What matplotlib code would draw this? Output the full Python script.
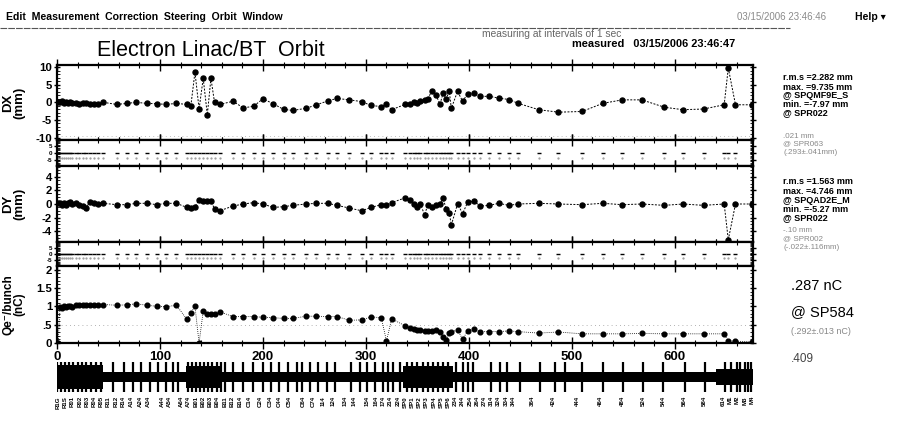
import matplotlib
matplotlib.use("Agg")
import matplotlib.pyplot as plt
from matplotlib.ticker import MultipleLocator

plt.rcParams["font.family"] = ["Liberation Sans", "DejaVu Sans"]

# BPM positions along the line (m) and the measured readings
s_bpm = [1, 3, 5, 7, 9, 11, 13, 15, 18, 21, 25, 28, 32, 36, 40, 45,
         58, 68, 77, 87, 97, 106, 116, 126, 130, 134, 138, 142, 146, 149.5,
         153, 158, 171, 181, 191, 200, 210, 220, 229, 242, 252, 263, 272,
         284, 296, 305, 315, 320, 325, 338, 343, 347, 350, 353, 357, 360,
         364, 368, 372, 375, 378, 381, 383, 389, 394, 399, 405, 411, 420,
         429, 439, 448, 468, 487, 510, 530, 549, 568, 590, 608, 628, 648,
         652, 659, 675]
dx_mm = [0.2, 0.0, 0.3, -0.1, 0.1, -0.2, 0.0, -0.3, -0.1, -0.4, -0.2, -0.3,
         -0.5, -0.4, -0.6, 0.0, -0.6, -0.3, 0.0, -0.3, -0.4, -0.6, -0.3, -0.6,
         -1.0, 8.6, -1.9, 6.8, -3.5, 6.8, 0.0, -0.6, 0.3, -1.6, -1.1, 1.0,
         -0.4, -2.0, -2.3, -1.7, -0.7, 0.4, 1.1, 0.7, 0.2, -0.9, -1.2, -0.5,
         -2.1, -0.6, -0.5, 0.0, -0.2, 0.3, 0.7, 1.0, 3.1, 2.1, -0.5, 2.6,
         1.0, 3.1, -1.7, 3.1, 0.3, 2.5, 2.6, 1.7, 1.7, 1.2, 0.8, -0.3, -2.1,
         -2.8, -2.6, -0.3, 0.7, 0.7, -1.4, -2.1, -1.9, -0.7, 9.735, -0.7, -0.7]
dy_mm = [0.1, 0.2, -0.1, 0.2, -0.2, 0.1, 0.3, 0.0, 0.2, -0.1, -0.3, -0.6,
         0.3, 0.1, 0.0, 0.1, -0.1, -0.1, 0.1, 0.1, -0.1, 0.1, 0.1, -0.5,
         -0.6, -0.4, 0.6, 0.5, 0.5, 0.4, -0.7, -1.0, -0.3, 0.0, 0.2, 0.0,
         -0.5, -0.4, -0.2, 0.0, 0.1, 0.1, -0.2, -0.6, -1.0, -0.5, -0.1, -0.1,
         0.2, 0.9, 0.6, 0.0, -0.4, 0.0, -1.6, -0.2, -0.4, -0.2, 0.0, 0.9,
         -0.8, -1.3, -3.1, 0.0, -1.4, 0.3, 0.4, -0.3, -0.2, 0.1, -0.2, 0.0,
         0.1, 0.0, -0.1, 0.1, -0.1, 0.0, -0.2, 0.0, -0.2, 0.0, -5.27, 0.0, 0.0]
qe_nc = [0.0, 0.97, 0.95, 1.0, 0.97, 1.0, 1.02, 0.98, 1.03, 1.05, 1.04, 1.05,
         1.04, 1.03, 1.05, 1.05, 1.03, 1.04, 1.07, 1.03, 1.0, 0.99, 1.03,
         0.65, 0.82, 1.0, 0.0, 0.87, 0.8, 0.78, 0.78, 0.85, 0.72, 0.72, 0.72,
         0.7, 0.69, 0.67, 0.67, 0.73, 0.73, 0.72, 0.72, 0.62, 0.63, 0.71,
         0.69, 0.05, 0.66, 0.47, 0.40, 0.37, 0.35, 0.36, 0.33, 0.34, 0.33,
         0.35, 0.31, 0.17, 0.08, 0.28, 0.30, 0.36, 0.10, 0.34, 0.38, 0.31,
         0.31, 0.31, 0.33, 0.31, 0.27, 0.30, 0.25, 0.25, 0.25, 0.26, 0.25,
         0.25, 0.25, 0.25, 0.05, 0.05, 0.03]

# lattice: focusing elements, band segments and element names
quad_s = [0, 4, 8, 12, 16, 20, 24, 28, 33, 38, 43, 54, 65, 73.5, 82, 90, 98,
          106, 113, 118, 127, 131, 135, 139, 143, 147, 151, 155, 159, 163,
          171, 181, 190.6, 200, 208, 216, 224.6, 232.7, 237.5, 245.6, 253.7,
          261.8, 270, 286, 294, 300.7, 308.7, 316.8, 321.7, 326.5, 333, 340,
          345, 350, 355, 360, 365, 370, 375, 380, 388, 394.5, 399.3, 404, 422,
          430, 436.6, 449.5, 469, 483.5, 493, 510, 530, 549.8, 569, 588.6,
          609.7, 629, 648.5, 655, 660, 663, 668, 671, 674]
band_start = [0, 45, 125, 160, 336, 385, 640]
band_end = [45, 125, 160, 336, 385, 640, 676]
band_half = [0.8, 0.35, 0.75, 0.35, 0.7, 0.3, 0.5]

label_s = [1, 8, 15, 22, 29, 36, 43, 50, 57, 64, 72, 81, 89, 102, 109, 121,
           128, 135, 142, 149, 156, 163, 170, 178, 187, 197, 207, 216, 226,
           239, 249, 259, 268, 280, 289, 301, 310, 317, 324, 331, 338, 345,
           352, 359, 366, 373, 380, 387, 394, 401, 408, 415, 422, 429, 436,
           443, 462, 482, 505, 528, 549, 569, 589, 609, 629, 647, 654, 661,
           668, 675]
label_names = ["R1G", "R1S", "R01", "R02", "R03", "R04", "R05", "R11", "R12",
               "R14", "A14", "A24", "A34", "A44", "A54", "A64", "A74", "B01",
               "B02", "B03", "B04", "B11", "B12", "B14", "C14", "C24", "C34",
               "C44", "C54", "C64", "C74", "114", "124", "134", "144", "154",
               "164", "174", "214", "224", "SP0", "SP1", "SP2", "SP3", "SP4",
               "SP5", "SP6", "234", "244", "254", "264", "274", "314", "324",
               "334", "344", "364", "424", "444", "464", "484", "524", "544",
               "564", "584", "614", "M1", "M2", "M3", "M4"]

W, H = 901, 428
fig = plt.figure(figsize=(W / 100, H / 100), dpi=100)


def box(top, bottom, left=57, right=753):
    return [left / W, 1 - bottom / H, (right - left) / W, (bottom - top) / H]


def style(ax, yticks=None, ylabels=None, ysize=8.2):
    for sp in ax.spines.values():
        sp.set_linewidth(1.6)
    ax.set_xlim(0, 676)
    ax.xaxis.set_major_locator(MultipleLocator(100))
    ax.xaxis.set_minor_locator(MultipleLocator(20))
    ax.tick_params(axis="x", which="major", direction="inout", length=9,
                   width=1.0, top=True, bottom=True, labelbottom=False)
    ax.tick_params(axis="x", which="minor", direction="inout", length=4,
                   width=0.8, top=True, bottom=True)
    ax.tick_params(axis="y", which="major", direction="inout", length=5,
                   width=1.0, left=True, right=True, pad=1)
    ax.tick_params(axis="y", which="minor", direction="in", length=2.5,
                   width=0.6, left=True, right=True)
    if yticks is not None:
        ax.set_yticks(yticks, ylabels, fontsize=ysize, fontweight="bold")


def orbit(ax, values):
    ax.plot(s_bpm, values, color="black", lw=0.7, ls=(0, (2, 1.5)),
            marker="o", ms=3.6, mfc="black", mec="black")


def strip(ax):
    ax.plot(s_bpm, [0] * len(s_bpm), ls="none", marker="_", ms=3.5,
            mew=1.0, color="black")
    ax.plot(s_bpm, [-3.5] * len(s_bpm), ls="none", marker=".", ms=1.2,
            color="#999999")
    ax.set_ylim(-9.5, 9.5)
    ax.yaxis.set_minor_locator(MultipleLocator(1))
    style(ax, [-5, 0, 5], ["-5", "0", "5"], ysize=4.5)


# horizontal orbit
ax_dx = fig.add_axes(box(65, 140))
orbit(ax_dx, dx_mm)
ax_dx.axhline(-9.6, color="#aaaaaa", lw=0.6, ls=(0, (1, 4)))
ax_dx.set_ylim(-10.7, 10.6)
ax_dx.yaxis.set_minor_locator(MultipleLocator(1))
style(ax_dx, [-10, -5, 0, 5, 10], ["-10", "-5", "0", "5", "10"])
ax_dx.set_ylabel("DX\n(mm)", fontsize=9.5, fontweight="bold", linespacing=0.95)
ax_dx.yaxis.set_label_coords(-0.045, 0.5)

# horizontal dispersion strip
ax_dxs = fig.add_axes(box(140, 166))
strip(ax_dxs)

# vertical orbit
ax_dy = fig.add_axes(box(166, 242))
orbit(ax_dy, dy_mm)
ax_dy.set_ylim(-5.6, 5.6)
ax_dy.yaxis.set_minor_locator(MultipleLocator(0.5))
style(ax_dy, [-4, -2, 0, 2, 4], ["-4", "-2", "0", "2", "4"])
ax_dy.set_ylabel("DY\n(mm)", fontsize=9.5, fontweight="bold", linespacing=0.95)
ax_dy.yaxis.set_label_coords(-0.045, 0.5)

# vertical dispersion strip
ax_dys = fig.add_axes(box(242, 266))
strip(ax_dys)

# bunch charge
ax_q = fig.add_axes(box(266, 343))
ax_q.axhline(0.5, color="#999999", lw=0.6, ls=(0, (1, 4)))
ax_q.plot(s_bpm, qe_nc, color="black", lw=0.6, ls=(0, (1, 1.5)),
          marker="o", ms=3.4, mfc="black", mec="black")
ax_q.set_ylim(0, 2.1)
ax_q.yaxis.set_minor_locator(MultipleLocator(0.1))
style(ax_q, [0, 0.5, 1, 1.5, 2], ["0", ".5", "1", "1.5", "2"])
ax_q.tick_params(axis="x", labelbottom=True, labelsize=9.5, pad=1)
for lbl in ax_q.get_xticklabels():
    lbl.set_fontweight("bold")
ax_q.set_ylabel("Qe\u207b/bunch\n(nC)", fontsize=8.5, fontweight="bold",
                linespacing=0.95)
ax_q.yaxis.set_label_coords(-0.045, 0.5)

# beam-line lattice
ax_l = fig.add_axes(box(361, 393))
ax_l.set_xlim(0, 676)
ax_l.set_ylim(-1.05, 1.05)
ax_l.axis("off")
for a, b, h in zip(band_start, band_end, band_half):
    ax_l.broken_barh([(a, b - a)], (-h, 2 * h), color="black", lw=0)
ax_l.vlines(quad_s, -1, 1, color="black", lw=1.6)
for s, name in zip(label_s, label_names):
    ax_l.text(s, -1.25, name, rotation=90, ha="center", va="top",
              fontsize=4.4, fontweight="bold", clip_on=False)

# menu bar and headings
fig.text(6 / W, 1 - 17 / H, "Edit  Measurement  Correction  Steering  Orbit  Window",
         fontsize=7.6, fontweight="bold", va="center")
fig.text(737 / W, 1 - 17 / H, "03/15/2006 23:46:46", fontsize=7,
         color="#8a8a8a", va="center")
fig.text(855 / W, 1 - 17 / H, "Help \u25be", fontsize=7.5, fontweight="bold",
         va="center")
fig.add_artist(plt.Line2D([0, 790 / W], [1 - 28 / H, 1 - 28 / H],
                          color="#555555", lw=0.8, ls=(0, (6, 1))))
fig.text(97 / W, 1 - 50 / H, "Electron Linac/BT  Orbit", fontsize=15.5,
         va="center")
fig.text(482 / W, 1 - 34 / H, "measuring at intervals of 1 sec", fontsize=7.4,
         color="#666666", va="center")
fig.text(572 / W, 1 - 44 / H, "measured   03/15/2006 23:46:47", fontsize=7.9,
         fontweight="bold", va="center")

# statistics column
x0 = 783 / W
for y, txt in [(78, "r.m.s =2.282 mm"), (87, "max. =9.735 mm"),
               (96, "@ SPQMF9E_S"), (104.5, "min. =-7.97 mm"),
               (113, "@ SPR022"), (182, "r.m.s =1.563 mm"),
               (191.5, "max. =4.746 mm"), (200.5, "@ SPQAD2E_M"),
               (209, "min. =-5.27 mm"), (217.5, "@ SPR022")]:
    fig.text(x0, 1 - y / H, txt, fontsize=6.5, fontweight="bold", va="center")
for y, txt in [(136, ".021 mm"), (144, "@ SPR063"), (153, "(.293\u00b1.041mm)"),
               (230, "-.10 mm"), (239, "@ SPR002"), (248, "(-.022\u00b1.116mm)")]:
    fig.text(x0, 1 - y / H, txt, fontsize=5.8, color="#888888", va="center")
x1 = 791 / W
fig.text(x1, 1 - 286 / H, ".287 nC", fontsize=10.5, va="center")
fig.text(x1, 1 - 312 / H, "@ SP584", fontsize=10.5, va="center")
fig.text(x1, 1 - 332 / H, "(.292\u00b1.013 nC)", fontsize=6.5, color="#888888",
         va="center")
fig.text(x1, 1 - 359 / H, ".409", fontsize=8.5, color="#444444", va="center")

fig.savefig("out.png", dpi=100)
plt.close(fig)
